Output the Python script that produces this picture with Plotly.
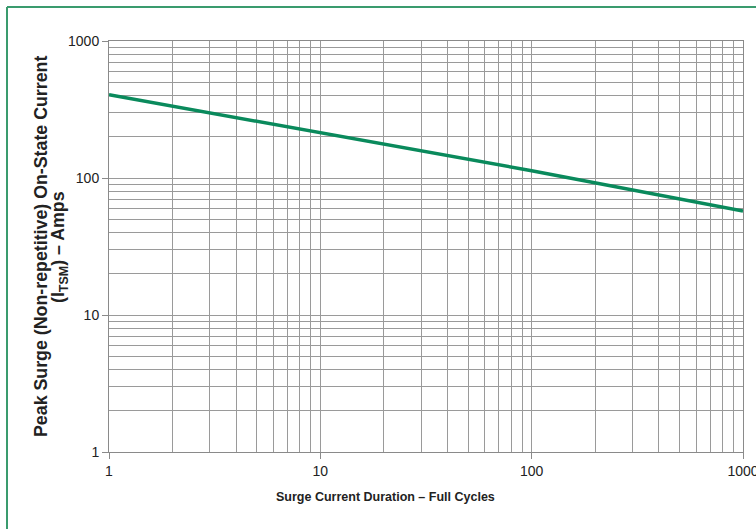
import plotly.graph_objects as go

cycles = [1, 10, 100, 1000]
peak_current = [405, 214, 113, 57.5]

x_tickvals = [1, 10, 100, 1000]
x_ticktext = ["1", "10", "100", "1000"]
y_tickvals = [1, 10, 100, 1000]
y_ticktext = ["1", "10", "100", "1000"]

W, H = 756, 529
L, R, T, B = 109, 13, 41, 77
pw, ph = W - L - R, H - T - B

def px_x(p):
    return (p - L) / pw

def px_y(p):
    return (H - B - p) / ph

fig = go.Figure()
fig.add_trace(go.Scatter(x=cycles, y=peak_current, mode="lines",
                         line=dict(color="#0a8a5c", width=3.5),
                         showlegend=False, hoverinfo="skip"))

grid = "#9a9a9a"
axis_common = dict(
    type="log", showgrid=True, gridcolor=grid, gridwidth=1,
    showline=True, linecolor="#8a8a8a", linewidth=1, mirror=True,
    ticks="outside", ticklen=6, tickcolor="#8a8a8a",
    tickfont=dict(family="Liberation Sans, Arial, sans-serif", size=14, color="#222"),
    minor=dict(showgrid=True, gridcolor=grid, gridwidth=1, dtick="D1", ticks=""),
    zeroline=False, ticklabeloverflow="allow", automargin=False,
)

fig.update_xaxes(range=[0, 3], tickvals=x_tickvals, ticktext=x_ticktext, **axis_common)
fig.update_yaxes(range=[0, 3], tickvals=y_tickvals, ticktext=y_ticktext, **axis_common)

fig.add_annotation(text="<b>Surge Current Duration – Full Cycles</b>",
                   xref="paper", yref="paper", x=px_x(385), y=px_y(497),
                   xanchor="center", yanchor="middle", showarrow=False,
                   font=dict(family="Liberation Sans, Arial, sans-serif", size=12.5, color="#222"))
yt_font = dict(family="Liberation Sans, Arial, sans-serif", size=17.8, color="#222")
fig.add_annotation(text="<b>Peak Surge (Non-repetitive) On-State Current</b>",
                   xref="paper", yref="paper", x=px_x(41), y=px_y(247), textangle=-90,
                   xanchor="center", yanchor="middle", showarrow=False, font=yt_font)
fig.add_annotation(text="<b>(I<sub>TSM</sub>) – Amps</b>",
                   xref="paper", yref="paper", x=px_x(59), y=px_y(247), textangle=-90,
                   xanchor="center", yanchor="middle", showarrow=False, font=yt_font)

border = "#3a9b6e"
fig.add_shape(type="line", xref="paper", yref="paper",
              x0=px_x(7), x1=px_x(W + 5), y0=px_y(7), y1=px_y(7),
              line=dict(color=border, width=2))
fig.add_shape(type="line", xref="paper", yref="paper",
              x0=px_x(7), x1=px_x(7), y0=px_y(7), y1=px_y(H + 5),
              line=dict(color=border, width=2))

fig.update_layout(width=W, height=H, margin=dict(l=L, r=R, t=T, b=B, autoexpand=False),
                  plot_bgcolor="white", paper_bgcolor="white")

fig.write_html("out.html", config={"displayModeBar": False},
               post_script="document.body.style.margin='0';document.body.style.overflow='hidden';")
